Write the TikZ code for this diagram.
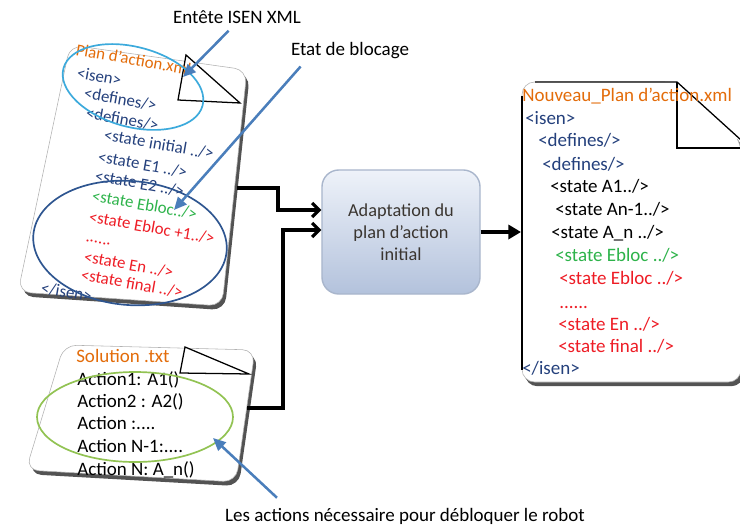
\documentclass[tikz,border=0pt]{standalone}
\usepackage{fontspec}
\setmainfont{Carlito}
\usepackage{tikz}
\usetikzlibrary{calc}
\usetikzlibrary{positioning, shadows}
\usetikzlibrary{arrows.meta}

\definecolor{fileorange}{HTML}{E36C0A}
\definecolor{tagblue}{HTML}{24407C}
\definecolor{blocgreen}{HTML}{2DB34A}
\definecolor{blocred}{HTML}{EE1C25}
\definecolor{ringcyan}{HTML}{3CAADC}
\definecolor{ringblue}{HTML}{2E5590}
\definecolor{ringgreen}{HTML}{92C353}
\definecolor{pointblue}{HTML}{4A7EBB}
\definecolor{boxtop}{HTML}{EEF2F9}
\definecolor{boxbottom}{HTML}{B3C2DC}
\definecolor{boxedge}{HTML}{A9B6CC}
\definecolor{boxtext}{HTML}{3A3530}

\begin{document}
\begin{tikzpicture}[
    x=0.025cm, y=-0.025cm,
    page/.style={draw=black!30, fill=white, rounded corners=9pt,
        drop shadow={shadow xshift=2pt, shadow yshift=-3pt, opacity=0.9, fill=black!75}},
    fold/.style={draw=black, fill=white, line width=0.9pt},
    txt/.style={anchor=base west, inner sep=0pt, font=\fontsize{13.5}{16}\selectfont},
    tilted/.style={txt, rotate=-10, font=\fontsize{12}{14}\selectfont},
    ring/.style={line width=1.2pt},
    process/.style={rounded corners=12pt, top color=boxtop, bottom color=boxbottom,
        draw=boxedge, line width=1pt, minimum width=3.95cm, minimum height=3.1cm, align=center,
        font=\fontsize{13}{15.5}\selectfont, text=boxtext},
    note/.style={inner sep=1pt, font=\fontsize{13.5}{16}\selectfont},
    flow/.style={line width=2.2pt, black, -{Straight Barb[length=5pt,width=10pt]}},
    feed/.style={line width=2.2pt, black, -{Triangle[length=9pt,width=10pt]}},
    pointer/.style={line width=1.8pt, pointblue, -{Triangle[length=9pt,width=8pt]}}
]
    \useasboundingbox (0,0) rectangle (740,524);

    % --- Plan d'action (top left, tilted)
    \path[page] (70,45) -- (247,70) -- (222,306) -- (18,292) -- cycle;
    \draw[fold] (186,55) -- (178,100) -- (240,103) -- cycle;
    \node[tilted, text=fileorange] (pname) at (75,55)  {Plan d’action.xml};
    \node[tilted, text=tagblue]    (p1)  at (76,78)   {<isen>};
    \node[tilted, text=tagblue]    (p2)  at (83,98)   {<defines/>};
    \node[tilted, text=tagblue]    (p3)  at (85,118)  {<defines/>};
    \node[tilted, text=tagblue]    (p4)  at (103,140) {<state initial ../>};
    \node[tilted, text=tagblue]    (p5)  at (97,162)  {<state E1 ../>};
    \node[tilted, text=tagblue]    (p6)  at (94,181)  {<state E2 ../>};
    \node[tilted, text=blocgreen]  (p7)  at (91,201)  {<state Ebloc../>};
    \node[tilted, text=blocred]    (p8)  at (88,222)  {<state Ebloc +1../>};
    \node[tilted, text=blocred]    (p9)  at (85,241)  {......};
    \node[tilted, text=blocred]    (p10) at (83,262)  {<state En ../>};
    \node[tilted, text=blocred]    (p11) at (80,280)  {<state final ../>};
    \node[tilted, text=tagblue]    (p12) at (40,293)  {</isen>};
    \draw[ring, ringcyan, rotate around={-15:(133,87)}] (133,87) ellipse [x radius=72, y radius=40];
    \draw[ring, ringblue, rotate around={-5:(130,243)}] (130,243) ellipse [x radius=97, y radius=62];

    % --- Solution (bottom left)
    \path[page] (64,345) -- (255,350) -- (236,482) -- (26,470) -- cycle;
    \draw[fold] (185,347) -- (180,373) -- (249,374) -- cycle;
    \node[txt, text=fileorange] (sname) at (76,362) {Solution .txt};
    \node[txt] (s1) at (77,385) {Action1: A1()};
    \node[txt] (s2) at (77,407) {Action2 : A2()};
    \node[txt] (s3) at (77,429) {Action :....};
    \node[txt] (s4) at (77,452) {Action N-1:....};
    \node[txt] (s5) at (77,475) {Action N: A\_n()};
    \draw[ring, ringgreen] (135,417) ellipse [x radius=98, y radius=45];

    % --- Nouveau plan (right)
    \path[page] (677,82) -- (741,140) -- (741,382) -- (522,382) -- (522,82) -- cycle;
    \draw[line width=1.2pt] (522,96) -- (522,370);
    \draw[fold] (535,82) -- (677,82) -- (741,140);
    \draw[fold, fill=none] (677,82) -- (677,148) -- (741,148);
    \node[txt, text=fileorange] (nname) at (522,102) {Nouveau\_Plan d’action.xml};
    \node[txt, text=tagblue]   (n1)  at (525,125) {<isen>};
    \node[txt, text=tagblue]   (n2)  at (538,147) {<defines/>};
    \node[txt, text=tagblue]   (n3)  at (542,171) {<defines/>};
    \node[txt]                 (n4)  at (550,193) {<state A1../>};
    \node[txt]                 (n5)  at (555,216) {<state An-1../>};
    \node[txt]                 (n6)  at (551,238) {<state A\_n ../>};
    \node[txt, text=blocgreen] (n7)  at (555,261) {<state Ebloc ../>};
    \node[txt, text=blocred]   (n8)  at (559,284) {<state Ebloc ../>};
    \node[txt, text=blocred]   (n9)  at (559,308) {......};
    \node[txt, text=blocred]   (n10) at (558,330) {<state En ../>};
    \node[txt, text=blocred]   (n11) at (558,352) {<state final ../>};
    \node[txt, text=tagblue]   (n12) at (522,374) {</isen>};

    % --- Adaptation
    \node[process] (adapt) at (401,232) {Adaptation du\\plan d’action\\initial};

    \coordinate (planout) at (237,188);
    \coordinate (solout) at (247,408);
    \coordinate (newin) at (521,232);
    \draw[flow] (planout) -- ++(41,0) |- ($(adapt.west)+(0,-22)$);
    \draw[flow] (solout) -- ++(36,0) |- ($(adapt.west)+(0,-2)$);
    \draw[feed] (adapt.east) -- (newin);

    % --- Labels
    \node[note] (hdrlbl) at (237,17)  {Entête ISEN XML};
    \node[note] (blklbl) at (350,51)  {Etat de blocage};
    \node[note] (actlbl) at (405,516) {Les actions nécessaire pour débloquer le robot};

    \coordinate (hdrtip) at (183,77);
    \coordinate (bloctip) at (174,210);
    \coordinate (soltip) at (213,438);
    \draw[pointer] ([xshift=-6pt,yshift=-4pt]hdrlbl.south) -- (hdrtip);
    \draw[pointer] ([xshift=8pt,yshift=-4pt]blklbl.south west) -- (bloctip);
    \draw[pointer] ([xshift=38pt,yshift=6pt]actlbl.north west) -- (soltip);

\end{tikzpicture}
\end{document}
